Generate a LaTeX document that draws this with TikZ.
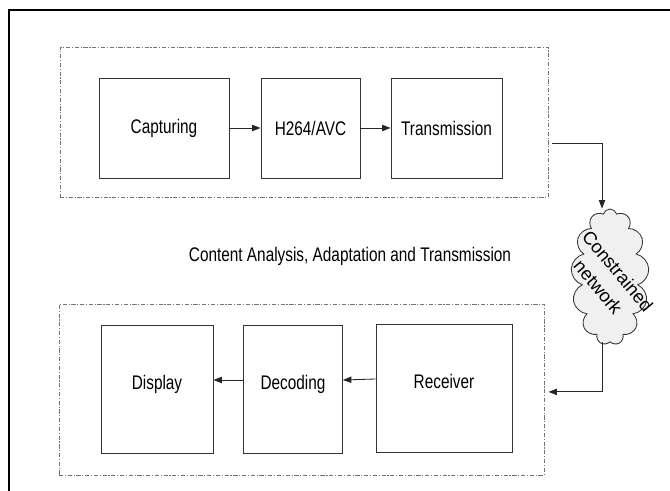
\documentclass[tikz,border=0pt]{standalone}
\usepackage{fontspec}
\setmainfont{Liberation Sans}[FakeStretch=0.78]
\newfontfamily\netfont{Liberation Sans}
\usetikzlibrary{shapes.symbols,arrows.meta}

\begin{document}
\begin{tikzpicture}[x=.025cm, y=-.025cm,
  txt/.style={font=\fontsize{14}{17}\selectfont},
  blk/.style={txt, draw=black!80, line width=.6pt, inner sep=0pt, minimum height=2.5cm},
  lowblk/.style={blk, text height=1.6cm, text depth=1.6cm},
  grp/.style={draw=black!55, line width=.6pt, dash pattern=on 3pt off 1.2pt on .8pt off 1.2pt, inner sep=0pt},
  arr/.style={-{Triangle[length=6pt,width=4.5pt]}, line width=.6pt, black!85}]
\useasboundingbox (0,0) rectangle (670,491);
\draw[line width=1.4pt] (9,10) rectangle (700,520);

\node[grp, minimum width=12.2cm, minimum height=3.75cm] (topgrp) at (304,122) {};
\node[grp, minimum width=12.125cm, minimum height=4.275cm] (botgrp) at (301.5,389.5) {};

\node[blk, minimum width=3.25cm] (cap) at (164,128) {Capturing};
\node[blk, minimum width=2.475cm] (h264) at (310.5,128) {H264/AVC};
\node[blk, minimum width=2.775cm] (trans) at (446.5,128) {Transmission};

\node[lowblk, minimum width=2.8cm] (disp) at (157,389) {Display};
\node[lowblk, minimum width=2.475cm] (dec) at (293,389) {Decoding};
\node[lowblk, minimum width=3.4cm] (recv) at (444,388) {Receiver};

\node[txt] (title) at (350,256) {Content Analysis, Adaptation and Transmission};

\node[cloud, cloud puffs=13, draw=black!80, fill=gray!12, line width=.6pt,
  minimum width=1.95cm, minimum height=3.4cm] (net) at (610,277) {};
\node[font=\netfont\fontsize{13}{18}\selectfont, rotate=-50, align=center, inner sep=0pt] (netlbl) at (608,279) {Constrained\\network};

\draw[arr] (cap) -- (h264);
\draw[arr] (h264) -- (trans);
\draw[arr] ([shift={(4,21)}]topgrp.east) -| ([xshift=-.2cm]net.north);
\draw[arr] ([xshift=-.2cm]net.south) |- ([xshift=.1cm,yshift=-.06cm]botgrp.east);
\draw[arr] ([yshift=.225cm]recv.west) -- ([yshift=.225cm]dec.east);
\draw[arr] ([yshift=.225cm]dec.west) -- ([yshift=.225cm]disp.east);
\end{tikzpicture}
\end{document}
